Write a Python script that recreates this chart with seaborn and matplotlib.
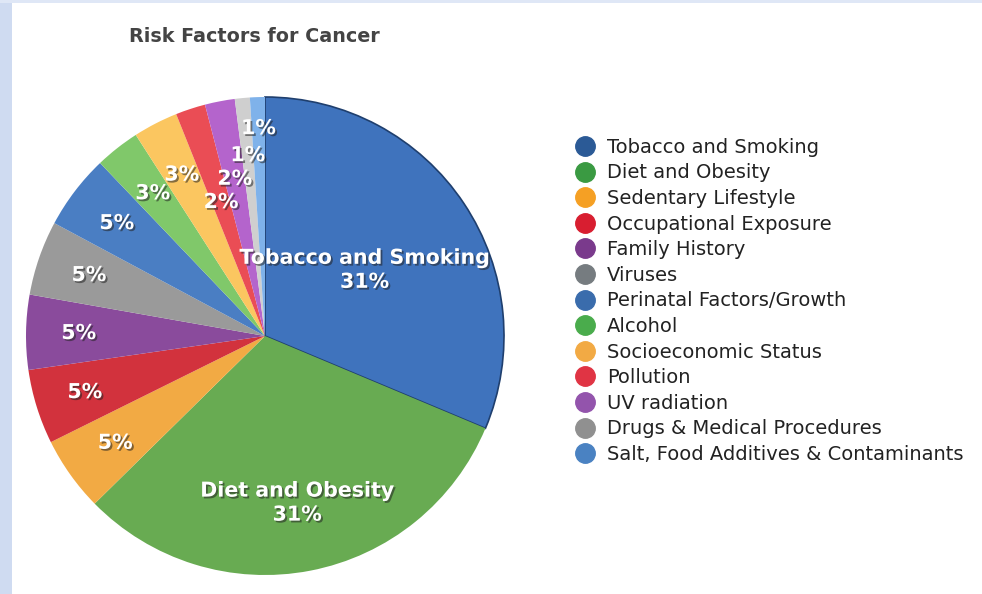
import matplotlib
matplotlib.use("Agg")
import matplotlib.pyplot as plt
import matplotlib.patheffects as pe
from matplotlib.lines import Line2D
from matplotlib.patches import Rectangle
import numpy as np
import seaborn as sns

categories = ["Tobacco and Smoking", "Diet and Obesity", "Sedentary Lifestyle",
              "Occupational Exposure", "Family History", "Viruses",
              "Perinatal Factors/Growth", "Alcohol", "Socioeconomic Status",
              "Pollution", "UV radiation", "Drugs & Medical Procedures",
              "Salt, Food Additives & Contaminants"]
values = [31, 31, 5, 5, 5, 5, 5, 3, 3, 2, 2, 1, 1]
slice_labels = ["Tobacco and Smoking\n31%", "Diet and Obesity\n31%", "5%", "5%", "5%",
                "5%", "5%", "3%", "3%", "2%", "2%", "1%", "1%"]

pie_colors = ["#3f73bd", "#68ab52", "#f2aa44", "#d2323d", "#8a4b9c", "#9a9a9a",
              "#4a7ec3", "#80c86a", "#fbc660", "#ea4d55", "#b464cc", "#cfcfcf", "#7fb2ea"]
legend_colors = ["#2b5a96", "#3a9a42", "#f5a024", "#d81e30", "#7a3a8c", "#767c80",
                 "#3a6cac", "#4aac4c", "#f2aa44", "#e03444", "#9354ac", "#909090", "#4a82c2"]
label_r = [0.50, 0.71, 0.77, 0.79, 0.78, 0.78, 0.78, 0.76, 0.76, 0.59, 0.67, 0.76, 0.87]

sns.set_theme(style="white")
plt.rcParams["font.family"] = ["DejaVu Sans"]

W, H = 982, 594
fig = plt.figure(figsize=(W / 100, H / 100), dpi=100)
fig.patch.set_facecolor("white")
fig.patches.append(Rectangle((0, 0), 12 / W, 1, transform=fig.transFigure,
                             facecolor="#cfdbf1", edgecolor="none", zorder=0))
fig.patches.append(Rectangle((0, 1 - 3 / H), 1, 3 / H, transform=fig.transFigure,
                             facecolor="#dfe7f6", edgecolor="none", zorder=0))

# pie axes: center ~ (265, 336) px, radius ~ 239 px
cx, cy, R = 265, 336, 239
ax = fig.add_axes([(cx - R) / W, (H - cy - R) / H, 2 * R / W, 2 * R / H])
wedges, _ = ax.pie(values, colors=pie_colors, startangle=90, counterclock=False,
                   radius=1.0, wedgeprops=dict(linewidth=0))
ax.set_xlim(-1, 1)
ax.set_ylim(-1, 1)
ax.set_aspect("equal")
ax.axis("off")

wedges[0].set_edgecolor("#1f3f6e")
wedges[0].set_linewidth(1.2)

for w, lab, r in zip(wedges, slice_labels, label_r):
    ang = np.deg2rad((w.theta1 + w.theta2) / 2)
    x, y = r * np.cos(ang), r * np.sin(ang)
    t = ax.text(x, y, lab, ha="center", va="center", color="white", fontsize=14.8,
                fontweight="bold", linespacing=1.25)
    t.set_path_effects([pe.withSimplePatchShadow(offset=(1.3, -1.3),
                                                 shadow_rgbFace="#222222", alpha=0.55)])

fig.text(254 / W, 1 - 37 / H, "Risk Factors for Cancer", ha="center", va="center",
         fontsize=13.8, fontweight="bold", color="#444444")

handles = [Line2D([0], [0], marker="o", linestyle="none", markersize=14,
                  markerfacecolor=c, markeredgecolor=c) for c in legend_colors]
fig.legend(handles, categories, loc="upper left",
           bbox_to_anchor=(566 / W, 1 - 130 / H), frameon=False,
           fontsize=14, labelspacing=0.34, handletextpad=0.5,
           handlelength=1.2, labelcolor="#222222", borderaxespad=0)

fig.savefig("out.png", dpi=100, facecolor="white")
